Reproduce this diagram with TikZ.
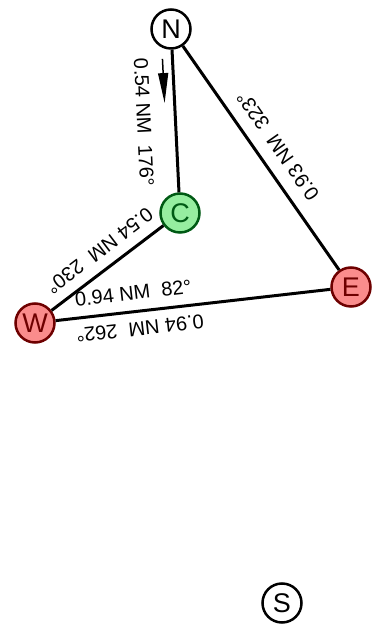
\documentclass[tikz,border=0pt]{standalone}
\usepackage{fontspec}
\setmainfont{Liberation Sans}
\usepackage{tikz}
\definecolor{wptred}{RGB}{250, 140, 140}
\definecolor{wptreddark}{RGB}{110, 0, 0}
\definecolor{wptgreen}{RGB}{150, 238, 160}
\definecolor{wptgreendark}{RGB}{0, 90, 20}
\usetikzlibrary{arrows.meta, calc, positioning}

\begin{document}
\begin{tikzpicture}[x=1pt, y=1pt,
    wpt/.style={circle, draw, line width=2.5pt, minimum size=39pt, inner sep=0pt, font=\fontsize{27}{27}\selectfont},
    leg/.style={line width=3pt},
    leglabel/.style={sloped, allow upside down, inner sep=0pt, font=\fontsize{20}{20}\selectfont}
]
    \useasboundingbox (0,0) rectangle (376,629);

    % Waypoints
    \node[wpt, fill=white] (n) at (171, 600) {N};
    \node[wpt, fill=wptgreen, draw=wptgreendark, text=wptgreendark] (c) at (180, 416) {C};
    \node[wpt, fill=wptred, draw=wptreddark, text=wptreddark] (w) at (35, 306) {W};
    \node[wpt, fill=wptred, draw=wptreddark, text=wptreddark] (e) at (351, 342) {E};
    \node[wpt, fill=white] (s) at (282, 26) {S};

    % Legs
    \draw[leg] (n) -- (c) node[leglabel, midway, below=23pt] {0.54 NM~~176°};
    \draw[leg] (e) -- (n) node[leglabel, midway, below=12pt] {0.93 NM~~323°};
    \draw[leg] (c) -- (w) node[leglabel, pos=0.47, below=10pt] {0.54 NM~~230°};
    \draw[leg] (w) -- (e) node[leglabel, pos=0.29, above=10pt] {0.94 NM~~82°};
    \path (e) -- (w) node[leglabel, pos=0.70, above=10pt] {0.94 NM~~262°};

    % Direction of travel
    \coordinate (dirstart) at ($(n)!0.16!(c)!10pt!-90:(c)$);
    \coordinate (dirend) at ($(n)!0.40!(c)!10pt!-90:(c)$);
    \draw[line width=1.5pt, -{Triangle[length=30pt, width=10pt]}] (dirstart) -- (dirend);
\end{tikzpicture}
\end{document}
